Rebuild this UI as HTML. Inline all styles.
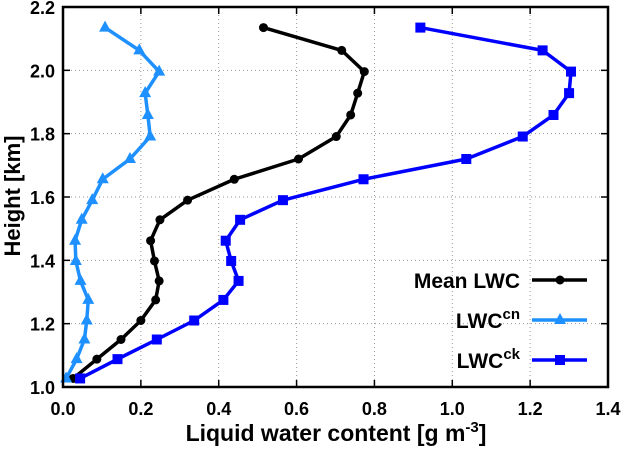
<!DOCTYPE html>
<html><head><meta charset="utf-8"><style>
body{margin:0;background:#fff}
svg text{font-family:"Liberation Sans",sans-serif;font-weight:bold}
</style></head><body>
<svg width="623" height="449">
<g id="grid"></g>
<g id="series"></g>
<rect x="63" y="7" width="545" height="380" fill="none" stroke="#000" stroke-width="2.5"/>
<g id="ticks"></g>
<text x="336" y="441" font-size="23" text-anchor="middle">Liquid water content [g m<tspan dy="-9" font-size="15">-3</tspan><tspan dy="9">]</tspan></text>
<text transform="translate(20,196) rotate(-90)" font-size="22" text-anchor="middle">Height [km]</text>
<g id="legend"></g>
</svg>
<script>
const heights=[2.135,2.063,1.996,1.928,1.859,1.791,1.72,1.656,1.59,1.528,1.462,1.398,1.335,1.275,1.21,1.15,1.088,1.027];
const meanLWC=[0.515,0.716,0.774,0.757,0.739,0.702,0.605,0.44,0.32,0.249,0.225,0.235,0.247,0.238,0.2,0.149,0.087,0.026];
const lwcCN=[0.108,0.196,0.247,0.211,0.218,0.224,0.172,0.102,0.075,0.048,0.031,0.033,0.045,0.065,0.061,0.055,0.035,0.008];
const lwcCK=[0.918,1.232,1.305,1.3,1.26,1.181,1.036,0.772,0.565,0.455,0.418,0.432,0.451,0.412,0.337,0.241,0.14,0.044];
const xTicks=[0,0.2,0.4,0.6,0.8,1.0,1.2,1.4];
const yTicks=[1.0,1.2,1.4,1.6,1.8,2.0,2.2];
const NS="http://www.w3.org/2000/svg";
const X=v=>63+v*(545/1.4), Y=v=>387-(v-1)*(380/1.2);
function mk(t,a,p){const e=document.createElementNS(NS,t);for(const k in a)e.setAttribute(k,a[k]);p.appendChild(e);return e;}
const grid=document.getElementById('grid'),ticks=document.getElementById('ticks');
xTicks.forEach(v=>{
 if(v>0&&v<1.4){const g=mk('line',{x1:X(v),x2:X(v),y1:7,y2:387,stroke:'#999','stroke-dasharray':'1,3'},grid);
 }
 const t=mk('line',{x1:X(v),x2:X(v),y1:387,y2:380,stroke:'#000','stroke-width':1.5},ticks);
 
 const t2=mk('line',{x1:X(v),x2:X(v),y1:7,y2:14,stroke:'#000','stroke-width':1.5},ticks);
 
 const l=mk('text',{x:X(v),y:415,'font-size':18,'text-anchor':'middle'},ticks);l.textContent=v.toFixed(1);
 
});
yTicks.forEach(v=>{
 if(v>1&&v<2.2){const g=mk('line',{x1:63,x2:608,y1:Y(v),y2:Y(v),stroke:'#999','stroke-dasharray':'1,3'},grid);
 }
 const t=mk('line',{x1:63,x2:70,y1:Y(v),y2:Y(v),stroke:'#000','stroke-width':1.5},ticks);
 
 const t2=mk('line',{x1:601,x2:608,y1:Y(v),y2:Y(v),stroke:'#000','stroke-width':1.5},ticks);
 
 const l=mk('text',{x:55,y:Y(v)+7,'font-size':18,'text-anchor':'end'},ticks);l.textContent=v.toFixed(1);
 
});
function marker(kind,x,y,c,p){
 let e;
 if(kind==='circle')e=mk('circle',{cx:x,cy:y,r:4.5,fill:c},p);
 else if(kind==='tri')e=mk('polygon',{points:`${x},${y-7} ${x-6},${y+4} ${x+6},${y+4}`,fill:c},p);
 else e=mk('rect',{x:x-5,y:y-5,width:10,height:10,fill:c},p);
 
}
const S=document.getElementById('series');
[[meanLWC,'#000','circle','mean-lwc-line'],[lwcCN,'#1e90ff','tri','lwc-cn-line'],[lwcCK,'#0000ff','square','lwc-ck-line']].forEach(([d,c,k,n])=>{
 const g=mk('g',{},S);
 const pl=mk('polyline',{points:d.map((v,i)=>X(v)+','+Y(heights[i])).join(' '),fill:'none',stroke:c,'stroke-width':3.5,'stroke-linejoin':'round'},g);
 
 d.forEach((v,i)=>marker(k,X(v),Y(heights[i]),c,g));
});
const L=document.getElementById('legend');
[['Mean LWC','','#000','circle',280,'legend-mean'],['LWC','cn','#1e90ff','tri',320,'legend-cn'],['LWC','ck','#0000ff','square',360,'legend-ck']].forEach(([t,s,c,k,y,n])=>{
 const g=mk('g',{},L);
 const tx=mk('text',{x:520,y:y+8,'font-size':21,'text-anchor':'end'},g);
 tx.textContent=t;
 if(s){const ts=mk('tspan',{dy:-9,'font-size':15},tx);ts.textContent=s;}
 mk('line',{x1:532,x2:587,y1:y,y2:y,stroke:c,'stroke-width':3.5},g);
 marker(k,560,y,c,g);
});
</script>
</body></html>
